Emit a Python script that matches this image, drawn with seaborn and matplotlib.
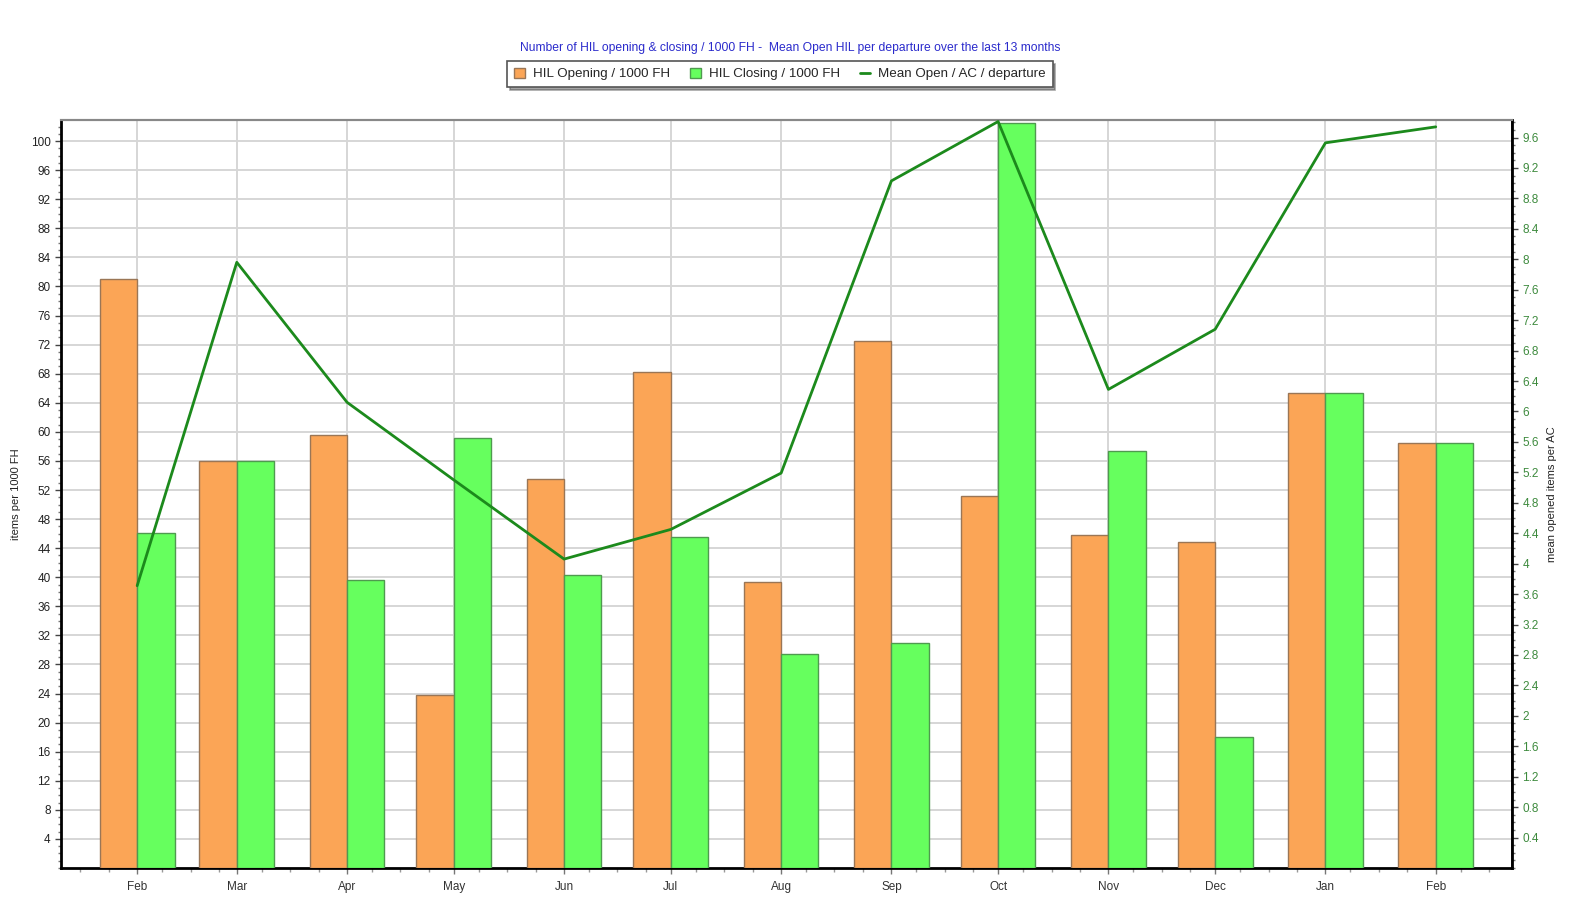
import numpy as np
import pandas as pd
import seaborn as sns
import matplotlib.pyplot as plt
import matplotlib.dates as mdates
from matplotlib.ticker import MultipleLocator, FuncFormatter
from matplotlib.patches import Patch
from matplotlib.lines import Line2D

# monthly data, last 13 months
months = pd.date_range("2013-02-01", periods=13, freq="MS")
month_labels = ["Feb", "Mar", "Apr", "May", "Jun", "Jul", "Aug", "Sep", "Oct", "Nov", "Dec", "Jan", "Feb"]
hil_opening = [81.0, 56.0, 59.5, 23.8, 53.5, 68.2, 39.3, 72.5, 51.2, 45.8, 44.8, 65.4, 58.4]
hil_closing = [46.1, 56.0, 39.6, 59.2, 40.3, 45.5, 29.5, 31.0, 102.5, 57.3, 18.0, 65.4, 58.4]
mean_open = [3.71, 7.96, 6.12, 5.10, 4.06, 4.45, 5.19, 9.03, 9.81, 6.29, 7.08, 9.53, 9.74]

df = pd.DataFrame({"month": months, "opening": hil_opening,
                   "closing": hil_closing, "mean_open": mean_open})

sns.set_theme(style="white")
plt.rcParams["font.family"] = ["Liberation Sans", "DejaVu Sans"]

fig = plt.figure(figsize=(15.77, 9.14), dpi=100)
ax = fig.add_axes([0.0387, 0.0503, 0.92, 0.8184])
ax2 = ax.twinx()

orange = "#fba556"
green = "#66ff5e"
line_green = "#1c8a1c"
bar_w = 10.5  # days

ax.bar(df["month"], df["opening"], width=-bar_w, align="edge", color=orange,
       edgecolor="#9a7656", linewidth=1.0, zorder=3)
ax.bar(df["month"], df["closing"], width=bar_w, align="edge", color=green,
       edgecolor="#4f9a4f", linewidth=1.0, zorder=3)

sns.lineplot(data=df, x="month", y="mean_open", ax=ax2, color=line_green,
             linewidth=2.0, zorder=4)

# line axis drawn over the bars
ax.set_zorder(1)
ax2.set_zorder(2)
ax2.patch.set_visible(False)

x0 = months[0] - pd.Timedelta(days=21.4)
x1 = months[-1] + pd.Timedelta(days=21.4)
ax.set_xlim(x0, x1)
ax.set_ylim(0, 102.9)
ax2.set_ylim(0, 9.83)

ax.set_xticks(months)
ax.set_xticklabels(month_labels, fontsize=8.5, color="#333333")
ax.xaxis.set_minor_locator(mdates.DayLocator(bymonthday=[8, 16, 24]))
ax.set_yticks(np.arange(4, 101, 4))
ax.yaxis.set_minor_locator(MultipleLocator(1))
ax.tick_params(axis="y", which="major", labelsize=8.5, labelcolor="#222222",
               length=4, width=1, direction="out", left=True, color="#444444")
ax.tick_params(axis="y", which="minor", length=2, width=1, left=True, color="#777777")
ax.tick_params(axis="x", which="major", length=4, width=1, bottom=True, color="#777777", pad=5)
ax.tick_params(axis="x", which="minor", length=3, width=1, bottom=True, color="#999999")

ax2.set_yticks(np.round(np.arange(0.4, 9.61, 0.4), 1))
ax2.yaxis.set_major_formatter(FuncFormatter(lambda v, p: f"{round(v, 1):g}"))
ax2.yaxis.set_minor_locator(MultipleLocator(0.1))
ax2.tick_params(axis="y", which="major", labelsize=8.5, labelcolor="#3d8a3d",
                length=4, width=1, direction="out", right=True, color="#444444")
ax2.tick_params(axis="y", which="minor", length=2, width=1, right=True, color="#777777")

ax.grid(True, which="major", color="#d6d6d6", linewidth=1.4, zorder=0)
ax.set_axisbelow(True)

for s in ["left", "bottom"]:
    ax.spines[s].set_color("black")
    ax.spines[s].set_linewidth(2)
ax.spines["top"].set_color("#888888")
ax.spines["top"].set_linewidth(1.5)
ax2.spines["right"].set_color("black")
ax2.spines["right"].set_linewidth(2)
ax2.spines["top"].set_color("#888888")
ax2.spines["top"].set_linewidth(1.5)
ax2.spines["left"].set_visible(False)
ax2.spines["bottom"].set_visible(False)

ax.set_xlabel("")
ax.set_ylabel("items per 1000 FH", fontsize=8, color="#222222", labelpad=7)
ax2.set_xlabel("")
ax2.set_ylabel("mean opened items per AC", fontsize=8, color="#222222", rotation=90, labelpad=6)

fig.text(0.501, 0.9475,
         "Number of HIL opening & closing / 1000 FH -  Mean Open HIL per departure over the last 13 months",
         ha="center", va="center", fontsize=8.7, color="#2b2bcc")

handles = [Patch(facecolor=orange, edgecolor="#9a7656", label="HIL Opening / 1000 FH"),
           Patch(facecolor=green, edgecolor="#4f9a4f", label="HIL Closing / 1000 FH"),
           Line2D([0], [0], color=line_green, linewidth=2, label="Mean Open / AC / departure")]
leg = fig.legend(handles=handles, loc="center", bbox_to_anchor=(0.4946, 0.919), ncol=3,
                 fontsize=9.6, frameon=True, fancybox=False, shadow=True,
                 edgecolor="#555555", handlelength=0.8, handleheight=0.8,
                 handletextpad=0.6, columnspacing=1.5, borderpad=0.5)
leg.get_frame().set_linewidth(1.2)

fig.savefig("out.png", dpi=100)
